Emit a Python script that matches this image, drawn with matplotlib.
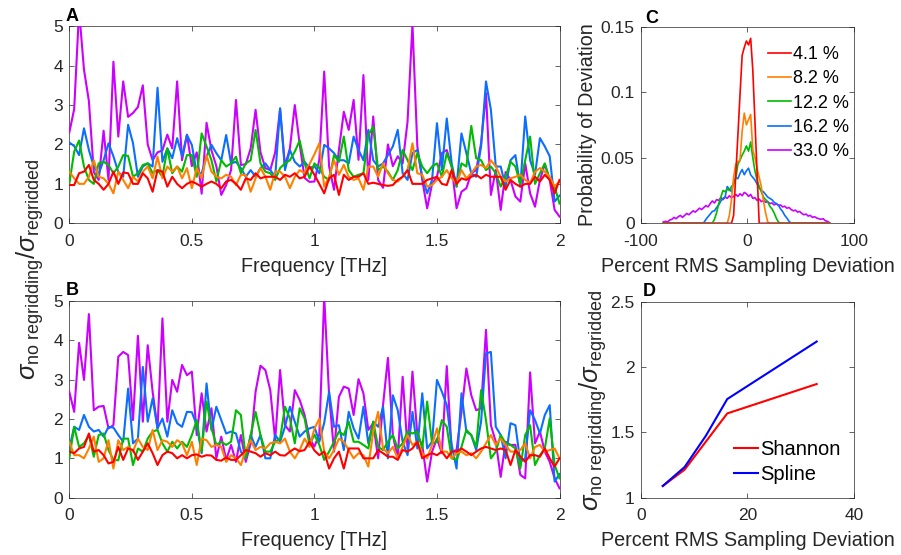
import numpy as np
import matplotlib
matplotlib.use("Agg")
import matplotlib.pyplot as plt

plt.rcParams['font.family'] = ['Liberation Sans', 'DejaVu Sans']
plt.rcParams['mathtext.fontset'] = 'custom'
plt.rcParams['mathtext.rm'] = 'Liberation Sans'
plt.rcParams['mathtext.it'] = 'Liberation Sans:italic'
plt.rcParams['mathtext.bf'] = 'Liberation Sans:bold'
plt.rcParams['axes.unicode_minus'] = False

# ---------------- data ----------------
freq_step = 0.02
freq = np.arange(101) * freq_step          # THz

series_labels = ['4.1 %', '8.2 %', '12.2 %', '16.2 %', '33.0 %']

# Panel A: noise ratio vs frequency
A_red = [0.97, 0.97, 1.27, 1.31, 1.48, 1.10, 1.00, 0.85, 1.00, 1.31,
         1.00, 1.29, 1.27, 1.00, 1.00, 1.27, 1.14, 0.80, 1.35, 1.31,
         0.93, 1.18, 1.00, 0.89, 1.00, 1.06, 1.00, 0.93, 1.00, 1.06,
         1.00, 0.89, 1.06, 1.10, 1.00, 0.85, 1.14, 1.10, 1.27, 1.14,
         1.18, 1.18, 1.18, 1.10, 1.23, 1.18, 1.27, 1.14, 1.18, 1.44,
         1.23, 1.00, 0.76, 1.14, 1.23, 0.72, 1.23, 1.10, 1.18, 1.18,
         1.27, 1.00, 1.03, 1.00, 0.97, 0.95, 0.97, 1.10, 1.18, 1.35,
         1.00, 1.00, 1.00, 1.10, 1.14, 1.18, 1.00, 0.97, 1.35, 1.00,
         1.14, 1.10, 1.18, 1.23, 1.14, 1.23, 1.18, 1.18, 1.18, 0.85,
         1.10, 1.00, 0.93, 1.00, 1.00, 1.18, 1.06, 1.23, 1.10, 0.76,
         1.10]
A_orange = [1.31, 1.14, 1.00, 1.00, 1.18, 1.60, 1.18, 1.14, 1.00, 0.76,
            1.31, 1.10, 0.89, 1.18, 1.06, 1.31, 1.44, 1.14, 1.69, 1.14,
            1.44, 1.31, 1.44, 1.14, 1.40, 0.89, 1.40, 1.14, 1.73, 1.31,
            1.18, 1.14, 1.23, 1.18, 0.97, 1.23, 1.23, 0.80, 1.14, 1.40,
            1.18, 0.85, 1.31, 1.31, 1.18, 0.89, 1.18, 1.35, 1.27, 1.50,
            1.75, 2.03, 0.93, 1.18, 1.60, 1.23, 1.48, 1.18, 1.10, 1.14,
            0.85, 1.44, 1.44, 1.18, 1.52, 1.27, 1.10, 1.06, 1.18, 1.35,
            2.03, 1.27, 1.23, 0.93, 0.97, 1.10, 1.18, 1.35, 1.14, 1.02,
            1.35, 1.14, 1.27, 1.44, 1.48, 1.40, 1.60, 1.44, 1.18, 1.06,
            1.14, 1.18, 1.23, 1.10, 1.02, 1.31, 1.40, 1.31, 1.18, 0.93,
            1.06]
A_green = [1.00, 1.82, 2.10, 1.44, 1.10, 1.00, 1.52, 1.56, 1.48, 1.27,
           1.44, 1.73, 1.71, 1.18, 1.27, 1.48, 1.52, 1.27, 1.35, 1.18,
           1.90, 1.27, 1.44, 1.31, 1.73, 1.73, 1.18, 2.28, 1.95, 1.60,
           1.06, 1.60, 1.44, 1.52, 1.69, 1.27, 1.52, 1.60, 2.37, 1.52,
           1.31, 1.27, 1.10, 1.40, 1.52, 1.60, 1.82, 2.10, 1.52, 1.14,
           1.52, 1.40, 1.18, 1.10, 1.73, 1.56, 2.20, 1.35, 1.18, 1.23,
           1.27, 2.24, 2.45, 1.35, 1.44, 1.31, 1.10, 1.35, 1.86, 1.60,
           1.35, 1.78, 1.44, 1.27, 1.44, 1.52, 1.18, 1.78, 1.44, 0.93,
           1.52, 1.44, 2.47, 1.65, 1.60, 1.35, 1.44, 1.27, 0.93, 1.18,
           1.56, 1.44, 1.00, 1.60, 2.20, 1.00, 1.27, 1.52, 1.10, 0.93,
           0.50]
A_blue = [2.05, 1.96, 1.73, 2.41, 1.86, 1.44, 1.25, 1.60, 2.03, 1.70,
          1.30, 1.18, 2.50, 2.03, 1.18, 1.44, 1.52, 1.44, 3.44, 1.56,
          1.90, 1.65, 2.16, 1.70, 2.24, 1.99, 1.27, 1.27, 1.70, 1.99,
          1.78, 1.60, 2.24, 1.52, 1.56, 1.40, 1.18, 1.35, 1.18, 1.40,
          1.52, 1.35, 1.18, 2.92, 1.35, 1.86, 1.56, 1.44, 1.56, 1.40,
          1.45, 1.27, 1.99, 1.90, 1.78, 1.60, 1.60, 1.52, 2.20, 1.86,
          1.60, 2.37, 1.60, 1.44, 1.52, 1.73, 1.95, 2.37, 1.27, 1.10,
          1.78, 1.86, 1.18, 0.76, 1.10, 2.54, 1.35, 2.66, 1.52, 0.93,
          2.28, 1.78, 1.27, 1.18, 1.95, 3.60, 2.88, 1.44, 1.44, 0.93,
          1.60, 1.73, 0.93, 2.71, 1.60, 1.23, 2.16, 1.95, 1.70, 0.55,
          0.70]
A_purple = [2.30, 2.90, 5.40, 3.90, 3.10, 1.30, 1.10, 2.35, 1.10, 4.10,
            2.20, 3.60, 2.70, 2.80, 2.95, 3.50, 2.00, 1.60, 1.80, 1.85,
            2.25, 1.90, 3.60, 1.60, 2.25, 1.45, 1.80, 0.75, 2.55, 1.85,
            1.45, 0.72, 0.97, 1.35, 3.13, 1.48, 1.50, 1.90, 2.88, 1.80,
            1.40, 1.35, 1.80, 2.90, 1.45, 1.90, 3.00, 2.00, 1.15, 1.05,
            1.06, 1.61, 3.85, 1.44, 0.85, 1.86, 2.83, 2.37, 3.13, 1.61,
            3.76, 1.10, 2.71, 1.10, 0.90, 2.00, 1.45, 1.70, 1.52, 2.58,
            5.05, 1.95, 1.10, 0.38, 1.00, 1.18, 1.78, 1.86, 1.44, 0.38,
            0.80, 0.89, 1.27, 1.35, 2.03, 3.30, 0.72, 1.35, 0.34, 1.30,
            1.10, 0.68, 0.55, 1.52, 0.76, 0.42, 1.10, 1.50, 1.10, 0.34,
            0.17]

# Panel B: noise ratio vs frequency
B_red = [1.17, 1.13, 1.25, 1.29, 1.63, 1.17, 1.21, 1.08, 0.87, 0.91,
         1.29, 0.96, 1.25, 1.21, 0.96, 1.17, 1.38, 1.13, 0.83, 1.08,
         1.17, 1.13, 1.00, 1.08, 1.00, 1.08, 1.10, 1.04, 1.08, 1.07,
         0.96, 0.94, 1.02, 0.96, 0.96, 1.08, 1.21, 1.17, 1.13, 1.04,
         1.13, 1.08, 1.17, 1.08, 1.07, 1.17, 1.25, 1.18, 1.21, 1.42,
         1.20, 1.08, 1.17, 0.74, 1.00, 1.17, 0.74, 1.25, 1.25, 1.25,
         1.00, 1.00, 1.00, 1.21, 1.13, 1.04, 1.04, 0.96, 1.21, 1.17,
         1.25, 1.42, 1.00, 1.08, 1.13, 1.08, 1.17, 1.00, 1.17, 1.17,
         1.25, 1.17, 1.08, 1.17, 1.25, 1.29, 1.25, 1.21, 1.25, 1.21,
         0.83, 1.21, 1.04, 0.91, 1.08, 1.08, 1.04, 1.25, 1.00, 0.79,
         1.00]
B_orange = [1.42, 1.08, 1.08, 1.00, 1.25, 1.55, 0.91, 1.00, 1.46, 0.74,
            1.46, 1.21, 1.29, 1.17, 1.50, 1.29, 1.21, 1.72, 1.21, 1.46,
            1.42, 1.29, 1.46, 1.38, 1.08, 1.42, 0.83, 1.50, 1.46, 1.29,
            1.34, 1.29, 0.91, 1.08, 1.00, 0.83, 1.21, 1.46, 1.21, 1.29,
            1.25, 1.38, 1.42, 1.38, 1.50, 1.17, 1.00, 1.21, 1.50, 1.29,
            1.75, 2.01, 1.17, 1.00, 1.21, 1.50, 1.42, 1.21, 1.00, 1.13,
            1.08, 0.79, 1.68, 2.18, 1.25, 1.13, 1.29, 1.00, 1.29, 1.59,
            1.34, 1.42, 1.13, 1.00, 1.34, 1.76, 1.17, 1.17, 1.00, 1.13,
            1.17, 1.08, 1.13, 1.00, 1.17, 1.38, 1.59, 1.34, 1.50, 1.34,
            1.17, 1.17, 1.21, 1.38, 1.00, 1.29, 1.34, 1.17, 1.21, 1.25,
            1.00]
B_green = [1.00, 1.80, 1.29, 1.38, 1.59, 1.04, 1.59, 1.63, 1.21, 0.96,
           0.95, 1.50, 1.50, 0.83, 1.25, 1.17, 1.50, 1.68, 1.72, 1.38,
           1.17, 1.42, 1.25, 1.42, 1.29, 1.59, 1.97, 1.17, 2.44, 1.76,
           1.34, 1.42, 1.34, 1.42, 2.22, 2.10, 1.00, 1.59, 2.18, 1.59,
           1.17, 1.17, 1.42, 1.50, 2.31, 2.01, 1.38, 2.27, 2.01, 1.34,
           1.60, 1.34, 0.96, 1.17, 1.42, 1.68, 1.59, 1.93, 1.42, 1.42,
           1.34, 1.25, 1.93, 1.29, 1.21, 1.42, 1.59, 1.25, 1.38, 1.68,
           1.63, 1.68, 1.25, 2.44, 1.38, 1.42, 1.97, 1.80, 1.00, 0.96,
           1.29, 1.72, 1.59, 1.29, 2.73, 1.97, 1.00, 1.17, 1.59, 1.38,
           1.34, 1.25, 0.74, 1.59, 1.84, 0.83, 1.08, 1.25, 2.01, 0.83,
           0.49]
B_blue = [1.25, 1.80, 1.72, 2.10, 1.80, 1.68, 1.72, 1.55, 1.80, 1.78,
          1.59, 1.42, 2.77, 1.38, 1.50, 3.32, 1.93, 2.52, 1.76, 2.01,
          1.55, 2.22, 1.89, 1.80, 2.18, 2.17, 1.84, 1.13, 2.90, 1.72,
          2.31, 1.97, 1.63, 1.68, 1.63, 1.17, 1.00, 1.59, 1.29, 1.59,
          1.00, 1.00, 1.59, 1.42, 1.80, 2.31, 1.93, 1.55, 1.68, 1.76,
          1.80, 1.42, 1.90, 2.69, 1.80, 1.84, 1.21, 2.18, 1.76, 1.50,
          2.31, 1.38, 1.93, 1.80, 2.31, 1.00, 2.60, 2.22, 1.42, 1.08,
          2.18, 1.25, 2.65, 1.25, 1.42, 2.99, 2.69, 2.35, 1.34, 0.74,
          2.65, 1.68, 1.59, 1.21, 1.93, 3.66, 3.70, 1.80, 1.59, 1.00,
          1.89, 1.84, 0.91, 1.00, 2.22, 1.97, 1.63, 2.10, 2.35, 0.41,
          0.60]
B_purple = [2.69, 2.18, 3.93, 2.99, 4.66, 2.22, 2.31, 2.33, 1.76, 1.84,
            3.58, 3.70, 3.62, 1.97, 4.11, 1.93, 3.87, 2.69, 1.76, 4.55,
            1.93, 2.99, 2.69, 3.37, 3.11, 3.20, 1.59, 2.65, 1.68, 2.27,
            1.00, 1.55, 0.96, 1.34, 0.91, 1.59, 0.91, 1.38, 2.69, 3.35,
            3.24, 2.73, 1.46, 3.24, 1.84, 1.68, 2.73, 2.48, 2.10, 1.50,
            1.30, 1.60, 5.10, 2.60, 1.17, 2.56, 2.82, 2.77, 2.10, 3.01,
            2.65, 1.72, 1.89, 1.00, 2.35, 3.55, 1.59, 1.00, 3.07, 1.25,
            3.20, 1.59, 1.34, 0.41, 1.17, 1.50, 1.13, 3.34, 1.17, 1.21,
            2.18, 3.28, 2.60, 2.22, 2.27, 4.26, 1.84, 1.42, 0.53, 1.42,
            1.34, 1.34, 0.58, 0.49, 3.18, 1.38, 1.68, 1.17, 0.91, 0.49,
            0.24]

# Panel C: distribution of sampling deviations (percent)
deviation = np.arange(-79, 78, 2)
C_red = ([0.0] * 33 +
         [0.006, 0.037, 0.067, 0.098, 0.128, 0.134, 0.139, 0.136, 0.141,
          0.117, 0.078, 0.039, 0.0] +
         [0.0] * 33)
C_orange = ([0.0] * 30 +
            [0.0, 0.006, 0.018, 0.035, 0.045, 0.047, 0.048, 0.070, 0.084,
             0.075, 0.079, 0.083, 0.056, 0.050, 0.042, 0.035, 0.028, 0.017,
             0.008, 0.001, 0.0] +
            [0.0] * 28)
C_green = ([0.0] * 23 +
           [0.0, 0.003, 0.008, 0.015, 0.020, 0.025, 0.024, 0.026, 0.025,
            0.028, 0.030, 0.034, 0.045, 0.048, 0.052, 0.055, 0.059, 0.055,
            0.062, 0.050, 0.040, 0.033, 0.028, 0.024, 0.020, 0.018, 0.0165,
            0.013, 0.011, 0.008, 0.004, 0.001, 0.0] +
           [0.0] * 23)
C_blue = ([0.0] * 19 +
          [0.0005, 0.003, 0.005, 0.007, 0.009, 0.0095, 0.012, 0.014, 0.017,
           0.019, 0.020, 0.028, 0.026, 0.024, 0.031, 0.035, 0.034, 0.038,
           0.041, 0.037, 0.040, 0.042, 0.037, 0.035, 0.033, 0.030, 0.027,
           0.025, 0.024, 0.022, 0.020, 0.019, 0.018, 0.016, 0.015, 0.014,
           0.011, 0.009, 0.006, 0.004, 0.0015, 0.0] +
          [0.0] * 18)
C_purple = [0.001, 0.0015, 0.001, 0.0025, 0.003, 0.0045, 0.0035, 0.005, 0.006, 0.0045,
            0.006, 0.0075, 0.0065, 0.008, 0.0095, 0.0085, 0.010, 0.0115, 0.0105, 0.012,
            0.0135, 0.0125, 0.015, 0.017, 0.0155, 0.018, 0.0175, 0.0195, 0.018, 0.020,
            0.019, 0.021, 0.0195, 0.0205, 0.022, 0.0205, 0.0225, 0.021, 0.0235, 0.0225,
            0.0205, 0.022, 0.019, 0.0195, 0.0175, 0.0185, 0.0165, 0.0175, 0.016, 0.0165,
            0.015, 0.0155, 0.014, 0.015, 0.0135, 0.014, 0.0125, 0.013, 0.0115, 0.012,
            0.0105, 0.0095, 0.010, 0.0085, 0.009, 0.0075, 0.0065, 0.007, 0.0055, 0.006,
            0.0045, 0.005, 0.004, 0.0035, 0.003, 0.0035, 0.002, 0.0015, 0.0005]

# Panel D: mean noise ratio vs RMS sampling deviation
rms_deviation = [4.1, 8.2, 12.2, 16.2, 33.0]
shannon_ratio = [1.09, 1.215, 1.43, 1.645, 1.87]
spline_ratio = [1.09, 1.235, 1.475, 1.755, 2.195]

# ---------------- styling ----------------
colors = ['#FF0000', '#FF8000', '#00BB00', '#0A6EFF', '#CC00FF']
TXT = '#262626'
TICK_FS = 12.5
LABEL_FS = 14.2
ratio_label = r'$\sigma_{\mathrm{no\ regridding}}/\sigma_{\mathrm{regridded}}$'


def style_axes(ax):
    for sp in ax.spines.values():
        sp.set_color(TXT)
        sp.set_linewidth(0.5)
    ax.tick_params(direction='in', top=True, right=True, length=3.5,
                   width=0.5, colors=TXT, labelsize=TICK_FS)
    ax.tick_params(axis='x', pad=7.5)
    ax.tick_params(axis='y', pad=4.5)


fig = plt.figure(figsize=(9.01, 5.55), dpi=100)
axA = fig.add_axes([0.0769, 0.5977, 0.5441, 0.3550])
axB = fig.add_axes([0.0769, 0.1032, 0.5441, 0.3550])
axC = fig.add_axes([0.7114, 0.5977, 0.2364, 0.3545])
axD = fig.add_axes([0.7114, 0.1032, 0.2364, 0.3532])

for ax, data in ((axA, [A_red, A_orange, A_green, A_blue, A_purple]),
                 (axB, [B_red, B_orange, B_green, B_blue, B_purple])):
    for i, (vals, c) in enumerate(zip(data, colors)):
        ax.plot(freq, vals, color=c, lw=1.5, zorder=10 - i)
    ax.set_xlim(0, 2)
    ax.set_ylim(0, 5)
    ax.set_xticks([0, 0.5, 1, 1.5, 2])
    ax.set_xticklabels(['0', '0.5', '1', '1.5', '2'])
    ax.set_yticks([0, 1, 2, 3, 4, 5])
    ax.set_xlabel('Frequency [THz]', fontsize=LABEL_FS, color=TXT, labelpad=6)
    style_axes(ax)

for i, (vals, c, lab) in enumerate(zip([C_red, C_orange, C_green, C_blue, C_purple],
                                       colors, series_labels)):
    axC.plot(deviation, vals, color=c, lw=1.2, zorder=10 - i, label=lab)
axC.set_xlim(-100, 100)
axC.set_ylim(0, 0.15)
axC.set_xticks([-100, 0, 100])
axC.set_yticks([0, 0.05, 0.1, 0.15])
axC.set_yticklabels(['0', '0.05', '0.1', '0.15'])
axC.set_xlabel('Percent RMS Sampling Deviation', fontsize=LABEL_FS, color=TXT, labelpad=6)
axC.set_ylabel('Probability of Deviation', fontsize=LABEL_FS, color=TXT, labelpad=3)
style_axes(axC)
legC = axC.legend(loc='upper right', frameon=False, fontsize=13,
                  handlelength=1.3, handletextpad=0.1, labelspacing=0.4,
                  borderaxespad=0.2, bbox_to_anchor=(1.028, 0.955))
for t in legC.get_texts():
    t.set_color('black')

axD.plot(rms_deviation, shannon_ratio, color='#FF0000', lw=1.5, label='Shannon')
axD.plot(rms_deviation, spline_ratio, color='#0000FF', lw=1.5, label='Spline')
axD.set_xlim(0, 40)
axD.set_ylim(1, 2.5)
axD.set_xticks([0, 20, 40])
axD.set_yticks([1, 1.5, 2, 2.5])
axD.set_yticklabels(['1', '1.5', '2', '2.5'])
axD.set_xlabel('Percent RMS Sampling Deviation', fontsize=LABEL_FS, color=TXT, labelpad=6)
style_axes(axD)
legD = axD.legend(loc='lower right', frameon=False, fontsize=14.5,
                  handlelength=1.2, handletextpad=0.1, labelspacing=0.3,
                  borderaxespad=0.0, bbox_to_anchor=(0.975, 0.03))
for t in legD.get_texts():
    t.set_color('black')

# shared ratio labels
fig.text(30 / 901, 1 - 269 / 555, ratio_label, rotation=90, ha='center',
         va='center', fontsize=18.5, color=TXT)
fig.text(593 / 901, 1 - 400 / 555, ratio_label, rotation=90, ha='center',
         va='center', fontsize=18.5, color=TXT)

# panel letters
for x, y, s in ((66, 8, 'A'), (66, 282, 'B'), (645, 10, 'C'), (643, 283, 'D')):
    fig.text(x / 901, 1 - y / 555, s, ha='left', va='top', fontsize=13,
             fontweight='bold', color='black')

fig.savefig('out.png', dpi=100)
